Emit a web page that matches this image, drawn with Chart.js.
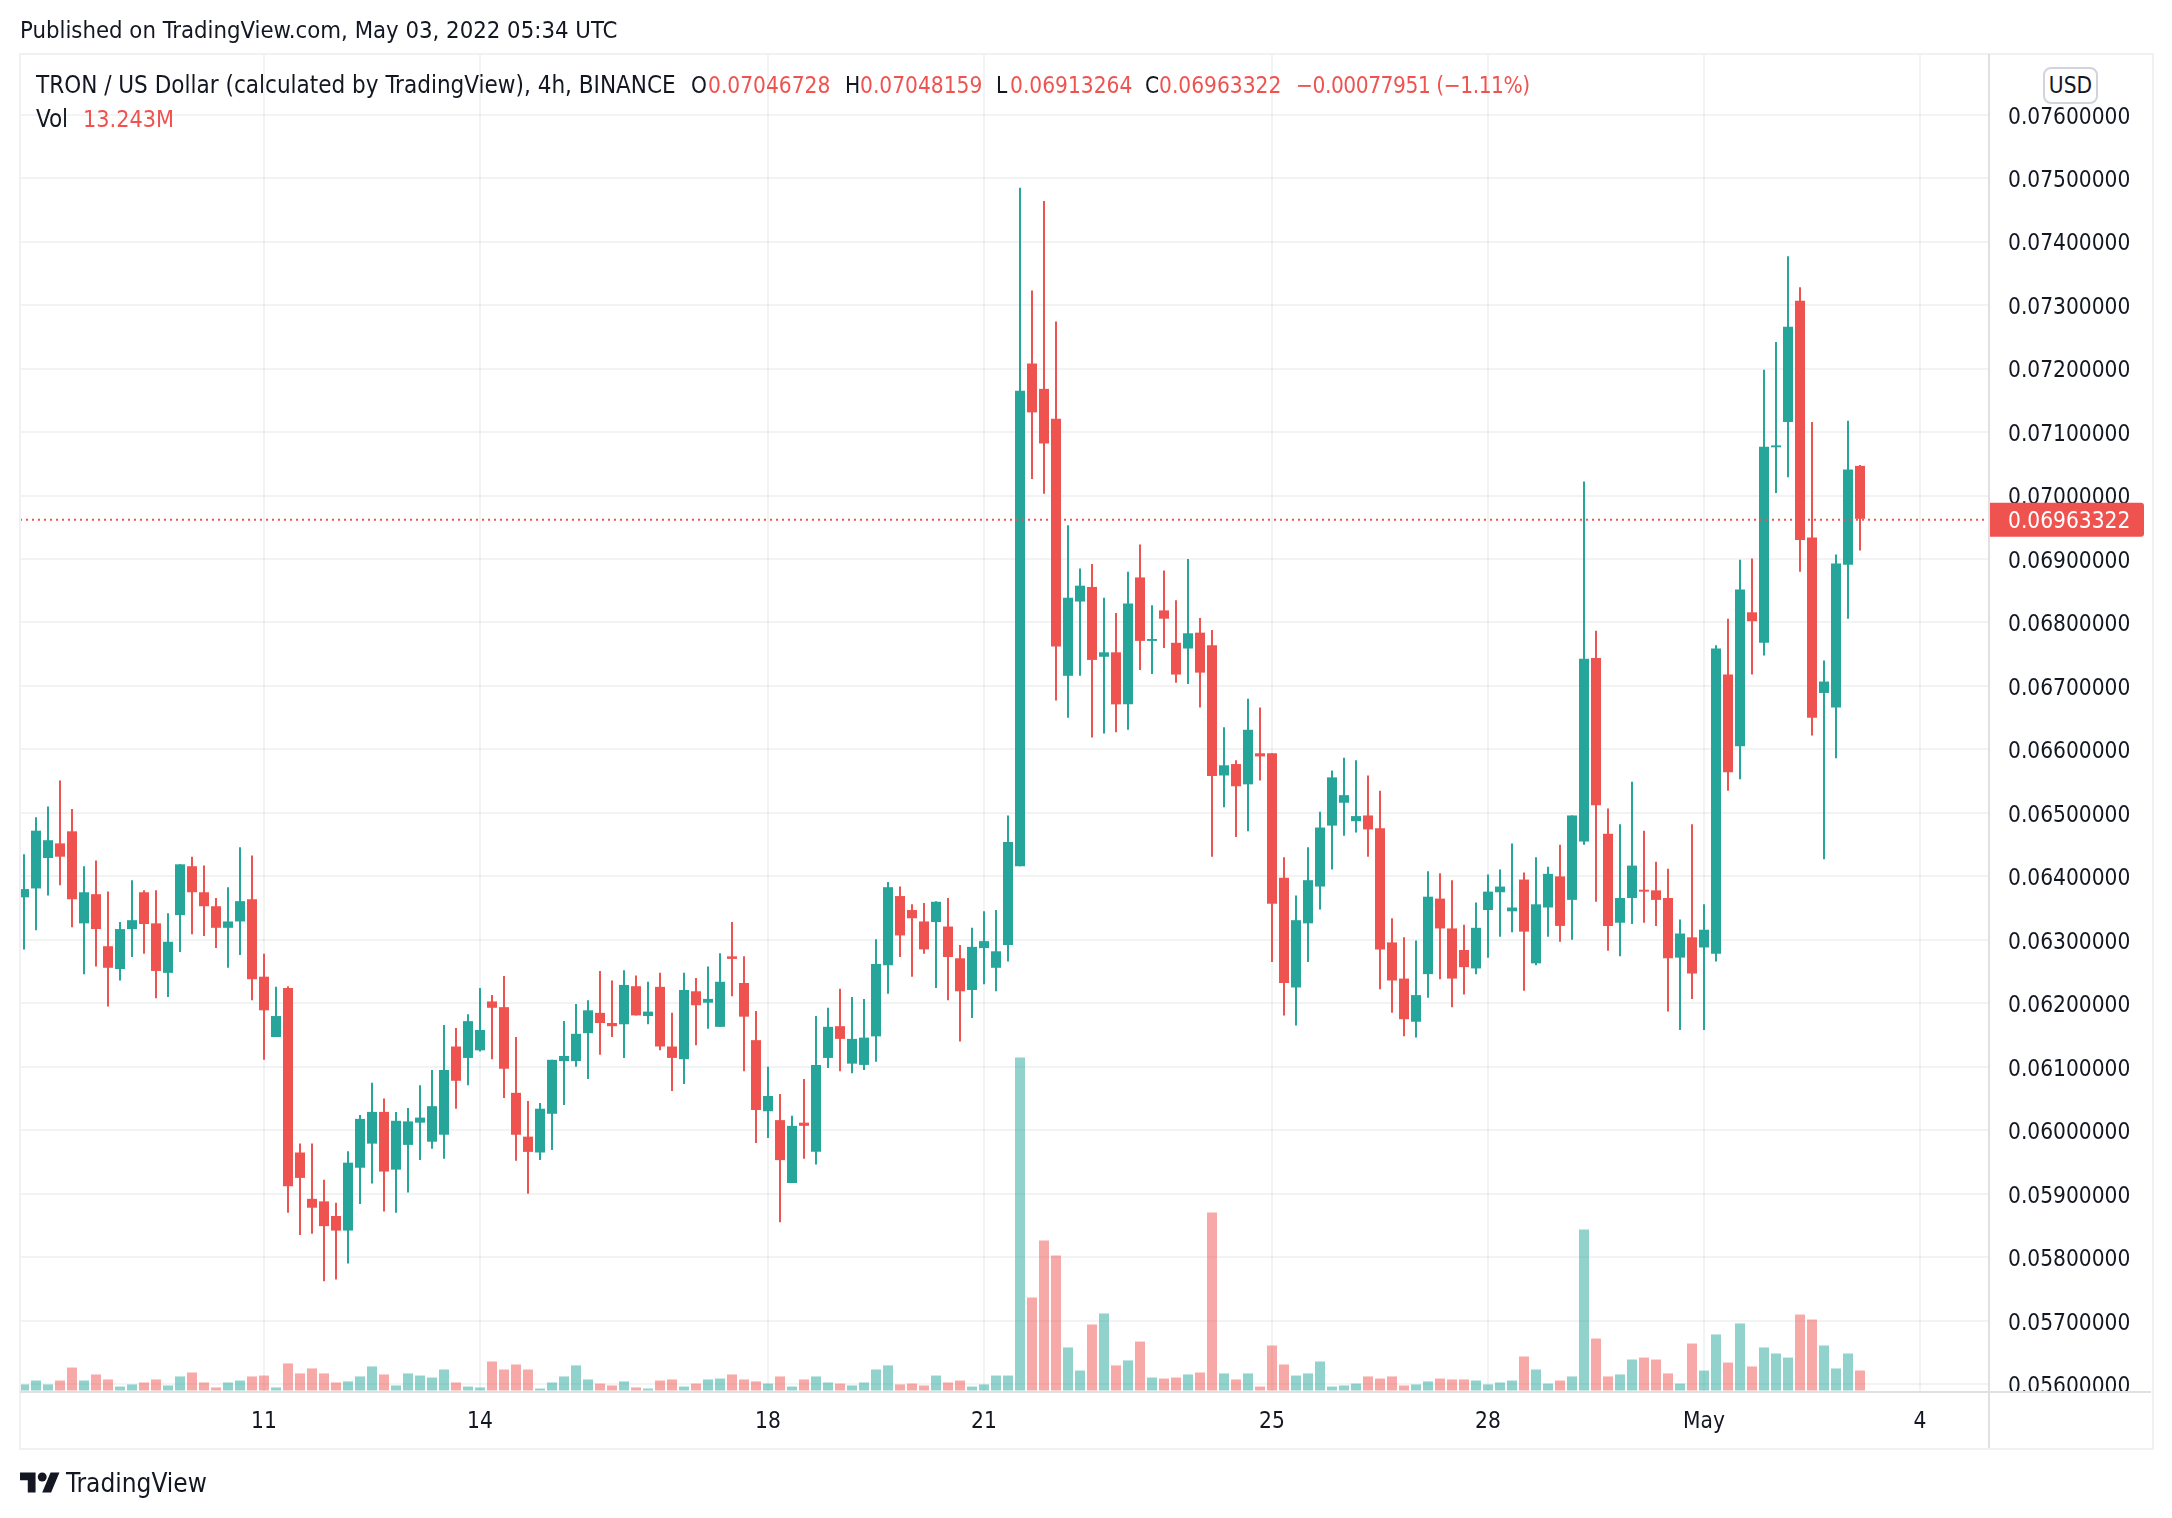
<!DOCTYPE html>
<html>
<head>
<meta charset="utf-8">
<title>TRON / US Dollar</title>
<script src="https://cdn.jsdelivr.net/npm/chart.js@4/dist/chart.umd.min.js"></script>
<style>
  body { margin: 0; background: #fff; color: #131722; font-family: "DejaVu Sans Condensed", "DejaVu Sans", sans-serif; font-size: 22.5px; }
  #wrap { position: relative; width: 2172px; height: 1518px; overflow: hidden; }
  canvas { position: absolute; left: 0; top: 0; }
  .txt { position: absolute; white-space: pre; line-height: 30px; }
  .red { color: #ef5350; }
  .box { position: absolute; }
</style>
</head>
<body>
<div id="wrap">
  <canvas id="chart" width="2172" height="1518"></canvas>

  <div class="box" style="left:1990px;top:1394px;width:160px;height:52px;background:#fff"></div>
  <div class="box" style="left:19px;top:53px;width:2131px;height:1393px;border:2px solid #f0f0f5"></div>
  <div class="box" style="left:20px;top:1391px;width:2131px;height:2px;background:#e0e0e3"></div>
  <div class="box" style="left:1988px;top:54px;width:2px;height:1394px;background:#e0e0e3"></div>

  <div class="txt" style="left:20px;top:15px;font-size:23.7px">Published on TradingView.com, May 03, 2022 05:34 UTC</div>
  <div class="txt" style="left:36px;top:70px;font-size:24px">TRON / US Dollar (calculated by TradingView), 4h, BINANCE</div>
  <div class="txt" style="left:691px;top:70px">O</div>
  <div class="txt red" style="left:708px;top:70px">0.07046728</div>
  <div class="txt" style="left:845px;top:70px">H</div>
  <div class="txt red" style="left:860px;top:70px">0.07048159</div>
  <div class="txt" style="left:996px;top:70px">L</div>
  <div class="txt red" style="left:1010px;top:70px">0.06913264</div>
  <div class="txt" style="left:1145px;top:70px">C</div>
  <div class="txt red" style="left:1159px;top:70px">0.06963322</div>
  <div class="txt red" style="left:1296px;top:70px;letter-spacing:-0.45px">−0.00077951 (−1.11%)</div>
  <div class="txt" style="left:36px;top:104px;font-size:24px">Vol</div>
  <div class="txt red" style="left:83px;top:104px;font-size:23.2px">13.243M</div>

  <div class="box" style="left:2043px;top:67px;width:51px;height:33px;border:2px solid #d1d4dc;border-radius:8px;background:#fff;text-align:center;line-height:33px">USD</div>

  <svg class="box" style="left:20px;top:1470px" width="40" height="24" viewBox="0 2 36 21">
    <path fill="#131722" d="M14 22H7V11H0V4h14v18zM28 22h-8l7.5-18h8L28 22z"/>
    <circle fill="#131722" cx="20" cy="8" r="4"/>
  </svg>
  <div class="txt" style="left:66px;top:1468px;font-size:26px">TradingView</div>
</div>

<script>
const opens = [
  0.06367,0.06381,0.06429,0.06452,0.06471,0.06326,0.06372,0.06290,0.06254,0.06317,0.06375,0.06326,0.06248,0.06339,
  0.06416,0.06375,0.06353,0.06319,0.06329,0.06364,0.06242,0.06147,0.06224,0.05965,0.05892,0.05888,0.05865,0.05842,
  0.05941,0.05979,0.06029,0.05938,0.05977,0.06012,0.05982,0.05993,0.06132,0.06114,0.06126,0.06203,0.06194,0.06059,
  0.05990,0.05965,0.06026,0.06109,0.06109,0.06153,0.06185,0.06169,0.06167,0.06227,0.06180,0.06226,0.06132,0.06112,
  0.06219,0.06201,0.06163,0.06274,0.06232,0.06142,0.06030,0.06016,0.05917,0.06012,0.05966,0.06114,0.06164,0.06105,
  0.06103,0.06148,0.06260,0.06369,0.06347,0.06329,0.06328,0.06321,0.06271,0.06221,0.06287,0.06256,0.06292,0.06416,
  0.07208,0.07168,0.07121,0.06716,0.06833,0.06856,0.06746,0.06753,0.06671,0.06871,0.06771,0.06819,0.06768,0.06759,
  0.06784,0.06764,0.06559,0.06577,0.06545,0.06594,0.06594,0.06398,0.06225,0.06326,0.06384,0.06480,0.06516,0.06487,
  0.06496,0.06476,0.06296,0.06239,0.06171,0.06246,0.06365,0.06318,0.06284,0.06255,0.06347,0.06375,0.06345,0.06395,
  0.06263,0.06351,0.06400,0.06363,0.06455,0.06744,0.06467,0.06327,0.06366,0.06379,0.06378,0.06366,0.06272,0.06304,
  0.06288,0.06278,0.06718,0.06605,0.06816,0.06768,0.07076,0.07116,0.07307,0.06934,0.06689,0.06666,0.06891,0.07046728
];
const highs = [
  0.06435,0.06493,0.06510,0.06551,0.06506,0.06416,0.06425,0.06376,0.06328,0.06394,0.06378,0.06378,0.06342,0.06419,
  0.06431,0.06417,0.06366,0.06383,0.06446,0.06433,0.06278,0.06226,0.06227,0.05979,0.05979,0.05922,0.05886,0.05967,
  0.06024,0.06075,0.06050,0.06029,0.06035,0.06071,0.06095,0.06166,0.06161,0.06183,0.06224,0.06213,0.06243,0.06147,
  0.06046,0.06043,0.06111,0.06172,0.06199,0.06205,0.06251,0.06236,0.06252,0.06244,0.06234,0.06248,0.06185,0.06248,
  0.06240,0.06258,0.06279,0.06328,0.06274,0.06188,0.06100,0.06057,0.06023,0.06081,0.06180,0.06193,0.06223,0.06210,
  0.06207,0.06301,0.06391,0.06384,0.06356,0.06358,0.06361,0.06366,0.06292,0.06319,0.06345,0.06347,0.06496,0.07485,
  0.07323,0.07464,0.07274,0.06953,0.06885,0.06892,0.06839,0.06815,0.06880,0.06923,0.06827,0.06882,0.06835,0.06900,
  0.06807,0.06788,0.06635,0.06583,0.06680,0.06666,0.06594,0.06430,0.06370,0.06446,0.06502,0.06567,0.06587,0.06583,
  0.06559,0.06535,0.06334,0.06304,0.06299,0.06408,0.06405,0.06394,0.06324,0.06359,0.06403,0.06411,0.06452,0.06406,
  0.06430,0.06415,0.06450,0.06496,0.07022,0.06787,0.06507,0.06482,0.06549,0.06472,0.06423,0.06412,0.06332,0.06482,
  0.06356,0.06764,0.06806,0.06899,0.06901,0.07198,0.07242,0.07377,0.07328,0.07116,0.06740,0.06907,0.07118,0.07048159
];
const lows = [
  0.06285,0.06315,0.06370,0.06386,0.06320,0.06246,0.06258,0.06195,0.06236,0.06273,0.06278,0.06208,0.06210,0.06281,
  0.06309,0.06306,0.06287,0.06256,0.06276,0.06205,0.06111,0.06147,0.05870,0.05835,0.05837,0.05762,0.05765,0.05790,
  0.05884,0.05916,0.05872,0.05870,0.05902,0.05953,0.05971,0.05955,0.06034,0.06071,0.06124,0.06112,0.06051,0.05952,
  0.05900,0.05953,0.05969,0.06040,0.06100,0.06081,0.06119,0.06147,0.06114,0.06181,0.06167,0.06126,0.06062,0.06073,
  0.06134,0.06160,0.06163,0.06211,0.06093,0.05980,0.05988,0.05855,0.05917,0.05955,0.05946,0.06098,0.06093,0.06090,
  0.06095,0.06108,0.06215,0.06273,0.06242,0.06278,0.06224,0.06205,0.06140,0.06177,0.06230,0.06219,0.06266,0.06416,
  0.07026,0.07003,0.06677,0.06650,0.06716,0.06619,0.06625,0.06627,0.06631,0.06725,0.06719,0.06760,0.06705,0.06703,
  0.06666,0.06431,0.06509,0.06462,0.06471,0.06551,0.06265,0.06181,0.06165,0.06265,0.06348,0.06411,0.06464,0.06469,
  0.06431,0.06222,0.06185,0.06148,0.06146,0.06209,0.06238,0.06194,0.06214,0.06246,0.06272,0.06305,0.06312,0.06220,
  0.06260,0.06305,0.06297,0.06300,0.06450,0.06360,0.06283,0.06274,0.06325,0.06327,0.06322,0.06187,0.06158,0.06207,
  0.06158,0.06266,0.06535,0.06553,0.06718,0.06748,0.07004,0.07029,0.06880,0.06622,0.06427,0.06586,0.06806,0.06913264
];
const closes = [
  0.06380,0.06472,0.06457,0.06431,0.06364,0.06375,0.06317,0.06256,0.06317,0.06331,0.06325,0.06251,0.06297,0.06419,
  0.06375,0.06353,0.06319,0.06329,0.06361,0.06238,0.06189,0.06180,0.05912,0.05925,0.05878,0.05849,0.05842,0.05949,
  0.06018,0.06029,0.05935,0.06015,0.06014,0.06020,0.06038,0.06095,0.06078,0.06172,0.06158,0.06193,0.06097,0.05993,
  0.05966,0.06034,0.06111,0.06117,0.06152,0.06189,0.06169,0.06164,0.06229,0.06181,0.06187,0.06132,0.06114,0.06221,
  0.06197,0.06207,0.06234,0.06270,0.06179,0.06032,0.06054,0.05953,0.06007,0.06007,0.06103,0.06163,0.06144,0.06144,
  0.06146,0.06262,0.06383,0.06307,0.06334,0.06285,0.06360,0.06273,0.06219,0.06289,0.06298,0.06282,0.06454,0.07165,
  0.07131,0.07082,0.06762,0.06839,0.06858,0.06741,0.06753,0.06671,0.06830,0.06771,0.06774,0.06806,0.06718,0.06783,
  0.06721,0.06558,0.06575,0.06542,0.06631,0.06589,0.06357,0.06232,0.06331,0.06394,0.06477,0.06556,0.06528,0.06495,
  0.06474,0.06285,0.06236,0.06175,0.06213,0.06368,0.06318,0.06239,0.06257,0.06319,0.06376,0.06384,0.06351,0.06313,
  0.06356,0.06404,0.06322,0.06496,0.06743,0.06512,0.06322,0.06366,0.06417,0.06376,0.06363,0.06271,0.06310,0.06247,
  0.06316,0.06759,0.06564,0.06852,0.06802,0.07077,0.07079,0.07266,0.06930,0.06650,0.06707,0.06893,0.07041,0.06963322
];
// volume in millions
const volumes = [
  4.0,6.6,4.0,6.6,15.2,6.6,10.6,7.3,2.6,4.0,5.3,7.3,3.3,9.3,11.9,5.3,2.0,5.3,6.6,9.3,9.9,2.0,17.9,11.3,14.6,11.3,5.3,6.0,
  9.3,15.9,10.6,3.3,11.3,9.9,8.6,13.9,5.3,2.6,2.0,19.2,13.9,17.2,13.9,1.3,5.3,9.3,16.6,7.3,4.6,3.3,6.0,2.0,1.3,6.6,7.3,2.6,4.6,
  7.3,7.9,10.6,7.3,6.0,4.6,9.3,2.6,7.3,9.3,5.3,4.6,3.3,5.3,13.9,16.6,4.0,4.6,3.3,9.9,5.3,6.6,2.6,4.0,9.9,9.9,
  220.5,61.6,99.3,89.4,28.5,13.2,43.7,51.0,16.6,19.9,32.4,8.6,7.9,8.6,10.6,11.9,117.9,11.3,7.3,11.3,2.6,29.8,17.2,9.9,11.3,19.2,
  2.6,3.3,4.6,9.3,7.9,9.3,3.3,4.0,6.0,7.9,7.3,7.3,6.6,4.0,5.3,6.6,22.5,13.9,4.6,6.6,9.3,106.6,34.4,9.3,10.6,20.5,21.8,20.5,
  11.3,4.6,31.1,13.2,37.1,18.5,44.4,15.9,28.5,24.5,21.8,50.3,47.0,29.8,14.6,24.5,13.243
];
const dayTickCandles = [20, 38, 62, 80, 104, 122, 140, 158];
const dayTickLabels = ["11", "14", "18", "21", "25", "28", "May", "4"];
const lastPrice = 0.06963322;

const UP = "#26a69a";
const DOWN = "#ef5350";
const UP_VOL = "rgba(38,166,154,0.5)";
const DOWN_VOL = "rgba(239,83,80,0.5)";
const GRID = "rgba(42,46,57,0.06)";
const FONT = { family: '"DejaVu Sans Condensed", "DejaVu Sans", sans-serif', size: 22.5 };

const isUp = opens.map((o, i) => closes[i] >= o);
const candleColors = isUp.map(u => u ? UP : DOWN);
const volColors = isUp.map(u => u ? UP_VOL : DOWN_VOL);

// dotted last price line and the red badge on the price axis
const lastPricePlugin = {
  id: "lastPrice",
  afterDatasetsDraw(chart) {
    const c = chart.ctx;
    const y = chart.scales.y.getPixelForValue(lastPrice);
    const area = chart.chartArea;
    c.save();
    c.strokeStyle = DOWN;
    c.lineWidth = 2;
    c.setLineDash([2, 4]);
    c.beginPath();
    c.moveTo(area.left, y + 1);
    c.lineTo(area.right, y + 1);
    c.stroke();
    c.restore();
  },
  afterDraw(chart) {
    const c = chart.ctx;
    const y = chart.scales.y.getPixelForValue(lastPrice);
    const x = chart.chartArea.right;
    c.save();
    c.fillStyle = DOWN;
    c.beginPath();
    c.roundRect(x - 1, y - 16, 156, 34, [0, 3, 3, 0]);
    c.fill();
    c.fillStyle = "#fff";
    c.font = FONT.size + "px " + FONT.family;
    c.textBaseline = "middle";
    c.fillText(lastPrice.toFixed(8), x + 19, y + 3);
    c.restore();
  }
};

new Chart(document.getElementById("chart"), {
  type: "bar",
  data: {
    datasets: [
      {
        label: "Body",
        data: opens.map((o, i) => ({ x: i, y: [o, closes[i]] })),
        backgroundColor: candleColors,
        barThickness: 10,
        yAxisID: "y",
        order: 1
      },
      {
        label: "Wick",
        data: lows.map((l, i) => ({ x: i, y: [l, highs[i]] })),
        backgroundColor: candleColors,
        barThickness: 2,
        yAxisID: "y",
        order: 2
      },
      {
        label: "Vol",
        data: volumes.map((v, i) => ({ x: i, y: v })),
        backgroundColor: volColors,
        barThickness: 10,
        yAxisID: "vol",
        order: 3
      }
    ]
  },
  options: {
    responsive: false,
    animation: false,
    devicePixelRatio: 1,
    grouped: false,
    inflateAmount: 0,
    layout: { padding: { left: 20, top: 54, right: 20, bottom: 70 } },
    plugins: { legend: { display: false }, tooltip: { enabled: false } },
    scales: {
      x: {
        type: "linear",
        offset: false,
        min: -1 / 3,
        max: 163.75,
        grid: { color: GRID, lineWidth: 2, drawTicks: false, offset: false },
        border: { display: false },
        afterBuildTicks: s => { s.ticks = dayTickCandles.map(v => ({ value: v })); },
        afterFit: s => { s.height = 56; },
        ticks: {
          autoSkip: false,
          maxRotation: 0,
          padding: 17,
          color: "#131722",
          font: FONT,
          callback: v => dayTickLabels[dayTickCandles.indexOf(v)]
        }
      },
      y: {
        position: "right",
        min: 0.055877,
        max: 0.076956,
        grid: { color: GRID, lineWidth: 2, drawTicks: false },
        border: { display: false },
        afterBuildTicks: s => {
          s.ticks = [];
          for (let k = 56; k <= 76; k++) s.ticks.push({ value: k / 1000 });
        },
        afterFit: s => { s.width = 163; },
        ticks: {
          padding: 19,
          labelOffset: 3,
          color: "#131722",
          font: FONT,
          callback: v => v.toFixed(8)
        }
      },
      vol: {
        display: false,
        min: -1,
        max: 885
      }
    }
  },
  plugins: [lastPricePlugin]
});
</script>
</body>
</html>
